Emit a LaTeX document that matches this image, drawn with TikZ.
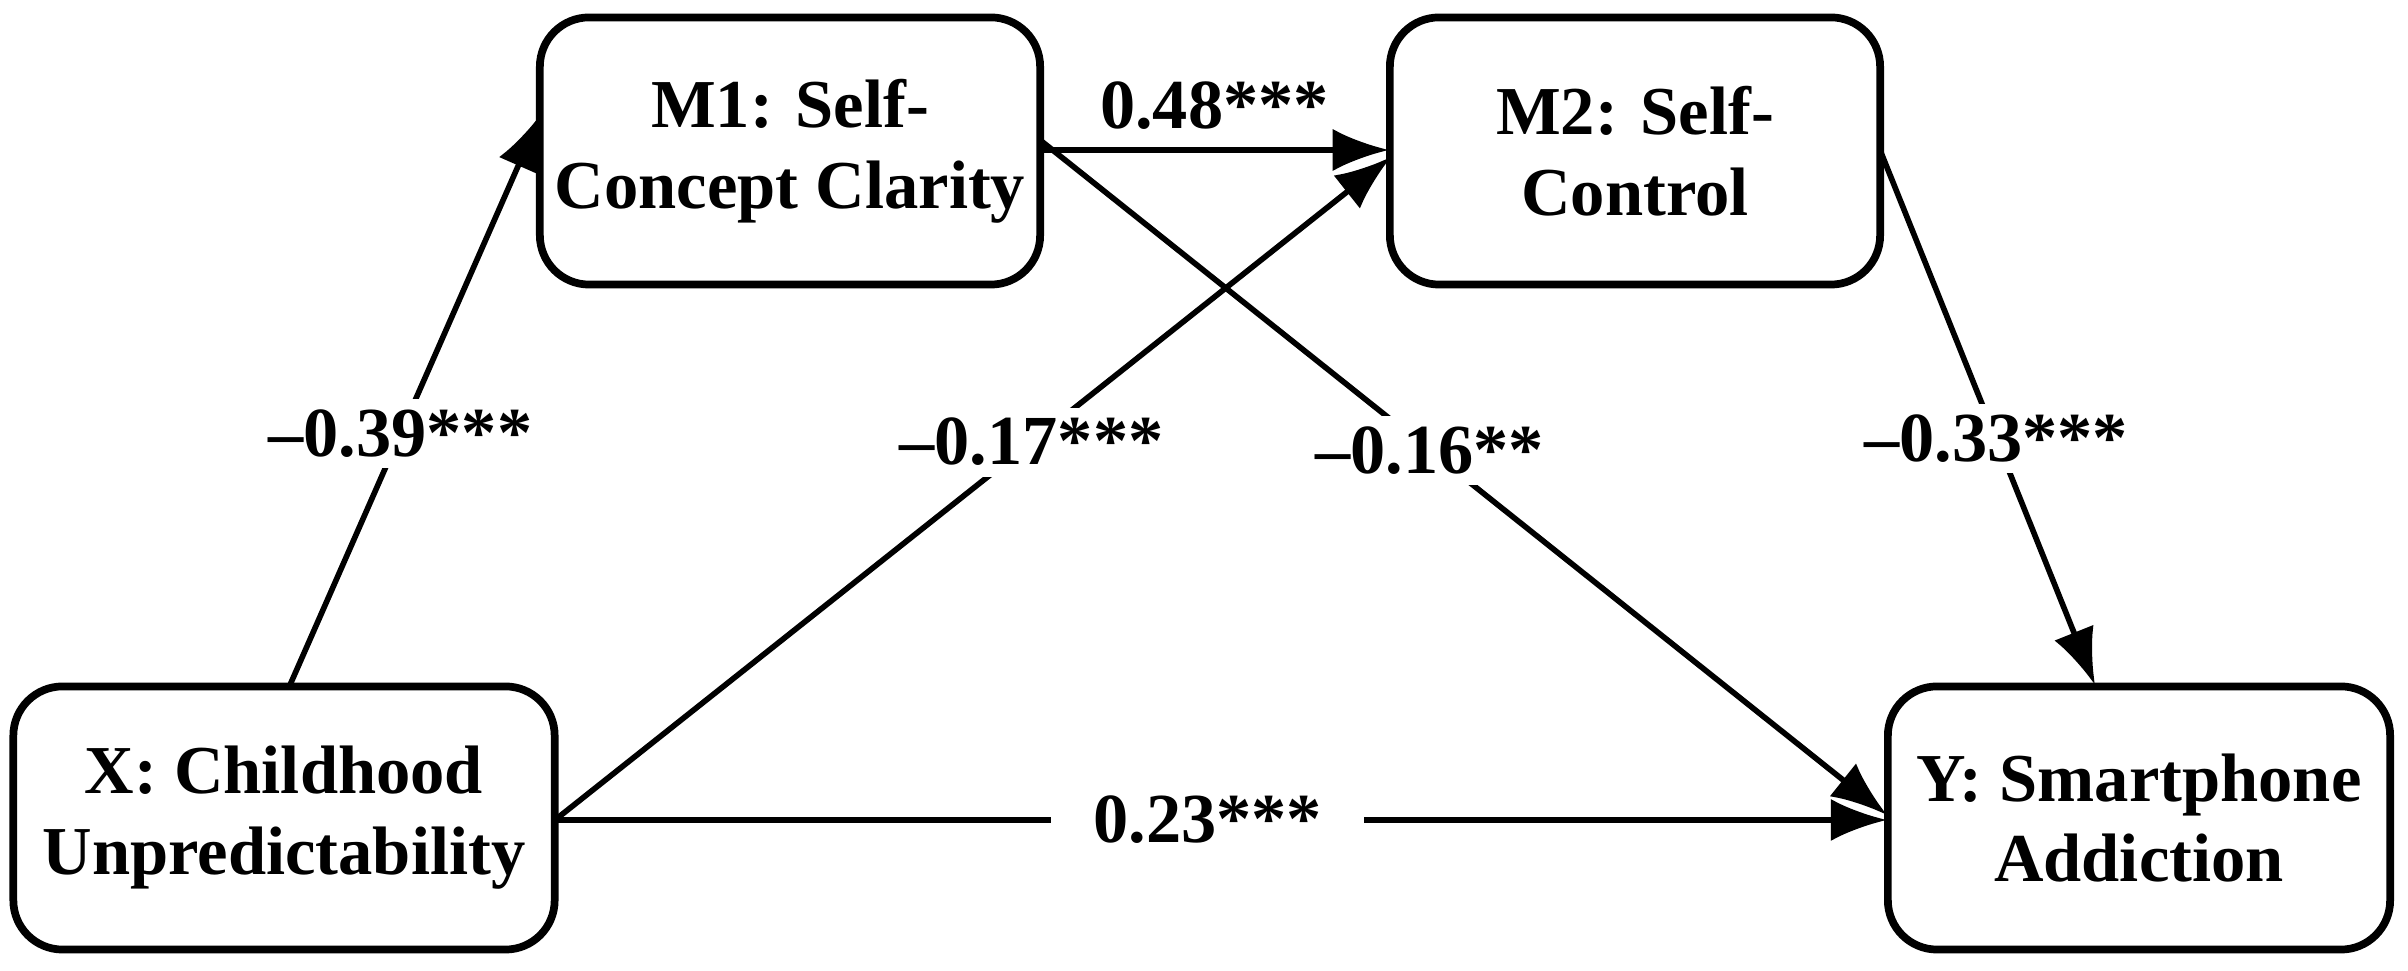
\documentclass[tikz,border=0pt]{standalone}
\usepackage{fontspec}
\setmainfont{Liberation Serif}
\usetikzlibrary{arrows.meta}
\begin{document}
\begin{tikzpicture}[x=0.01cm,y=-0.01cm,
  box/.style={draw,line width=2.2pt,rounded corners=14pt,align=center,font=\bfseries\fontsize{19.5}{23}\selectfont},
  lab/.style={fill=white,font=\bfseries\fontsize{20}{24}\selectfont,inner sep=3pt},
  arr/.style={line width=1.6pt,-{Latex[length=16pt,width=12pt]}}]
\useasboundingbox (0,0) rectangle (2408,971);
\node[box] (m1) at (790,151) [minimum width=5cm,minimum height=2.67cm] {M1: Self-\\Concept Clarity};
\node[box] (m2) at (1635,151) [minimum width=4.9cm,minimum height=2.67cm] {M2: Self-\\Control};
\node[box] (x) at (284,818) [minimum width=5.41cm,minimum height=2.63cm,inner sep=1pt] {X: Childhood\\Unpredictability};
\node[box] (y) at (2139,818) [minimum width=5.02cm,minimum height=2.63cm] {Y: Smartphone\\Addiction};
\coordinate (xa) at (290,685);
\coordinate (xr) at (555,820);
\coordinate (m1l) at (541,114);
\coordinate (m1r) at (1040,150);
\coordinate (m1r2) at (1040,140);
\coordinate (m2l) at (1389,150);
\coordinate (m2lb) at (1391,157);
\coordinate (m2r) at (1880,150);
\coordinate (ya) at (2095,685);
\coordinate (yl) at (1887,820);
\coordinate (yl2) at (1887,815);
\draw[arr] (xa) -- node[lab,pos=0.44]{–0.39***} (m1l);
\draw[arr] (xr) -- node[lab,pos=0.57]{–0.17***} (m2lb);
\draw[arr] (m1r) -- node[lab,above=2pt,fill=none]{0.48***} (m2l);
\draw[arr] (m1r2) -- node[lab,pos=0.46]{–0.16**} (yl2);
\draw[arr] (m2r) -- node[lab,pos=0.54]{–0.33***} (ya);
\draw[arr] (xr) -- node[lab,pos=0.49,inner xsep=12pt]{0.23***} (yl);
\end{tikzpicture}
\end{document}
